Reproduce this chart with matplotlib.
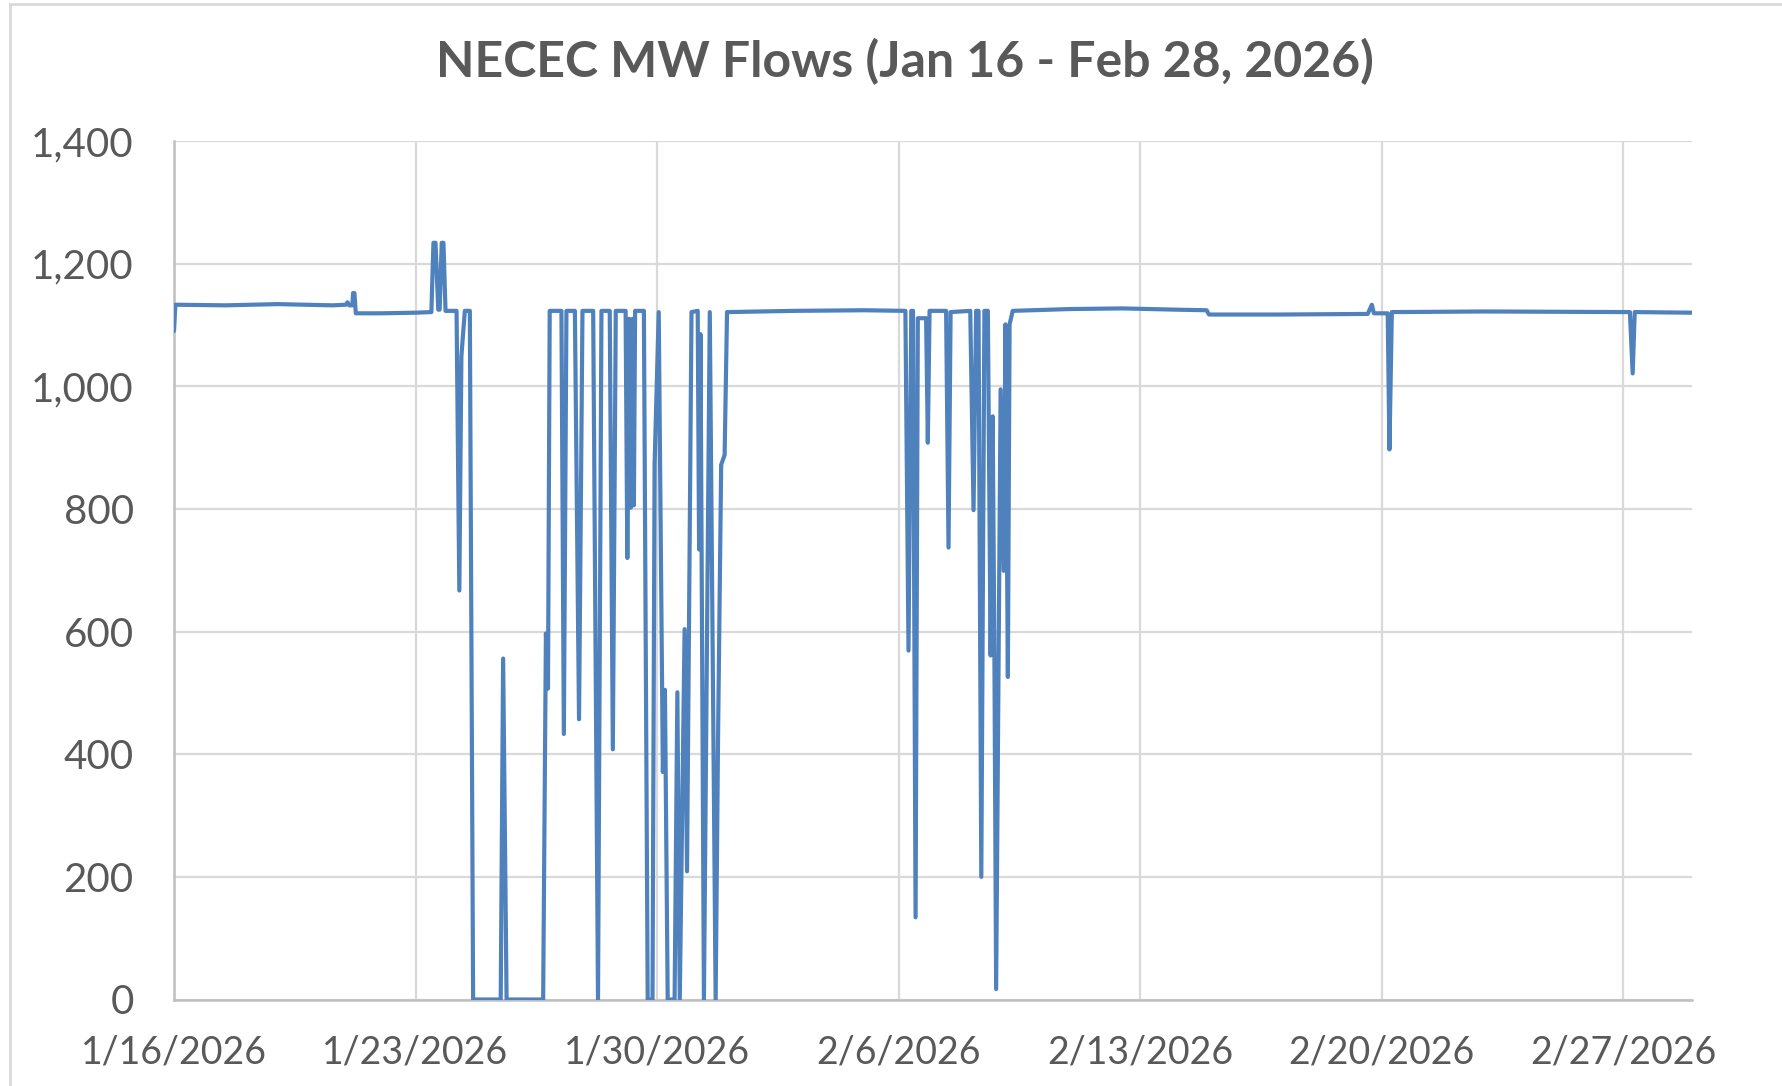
import matplotlib
matplotlib.use("Agg")
import matplotlib.pyplot as plt
import matplotlib.patches as patches
import matplotlib.dates as mdates
from matplotlib.ticker import FuncFormatter
import pandas as pd

# NECEC MW flows: days since 1/16/2026 00:00 and MW
day_offsets = [
    0.00, 0.04, 1.5, 3.0, 4.6, 4.98, 5.03, 5.08, 5.17, 5.19, 5.23, 5.27, 6.0, 7.0, 7.46,
    7.52, 7.58, 7.66, 7.70, 7.76, 7.81, 7.87, 8.19, 8.27, 8.33, 8.43, 8.575, 8.67,
    9.47, 9.54, 9.64, 10.70, 10.78, 10.84, 10.89, 11.23, 11.30, 11.375, 11.62, 11.74,
    11.84, 12.15, 12.29, 12.39, 12.63, 12.72, 12.805, 13.09, 13.14, 13.19, 13.24,
    13.29, 13.33, 13.365, 13.62, 13.73, 13.87, 13.93, 14.05, 14.17, 14.23, 14.31,
    14.51, 14.59, 14.66, 14.80, 14.87, 15.00, 15.18, 15.22, 15.26, 15.36, 15.53,
    15.70, 15.77, 15.86, 15.96, 16.03, 18.0, 20.0, 21.20,
    21.29, 21.37, 21.42, 21.495, 21.56, 21.80, 21.85, 21.90, 22.38, 22.45, 22.51,
    23.08, 23.175, 23.25, 23.32, 23.40, 23.49, 23.59, 23.67, 23.73, 23.78, 23.83,
    23.96, 24.05, 24.10, 24.17, 24.22, 24.31, 26.0, 27.5, 29.0, 29.93, 30.0, 32.0,
    34.6, 34.72, 34.78, 35.18, 35.23, 35.30, 38.0, 42.2, 42.28, 42.34, 44.0,
]
mw_flow = [
    1090, 1133, 1132, 1134, 1132, 1133, 1137, 1132, 1132, 1152, 1152, 1119, 1119, 1120, 1121,
    1234, 1234, 1125, 1125, 1234, 1234, 1123, 1123, 667, 1049, 1123, 1123, 0,
    0, 556, 0, 0, 597, 507, 1123, 1123, 433, 1123, 1123, 457,
    1123, 1123, 0, 1123, 1123, 408, 1123, 1123, 720, 1110, 802,
    1110, 806, 1123, 1123, 0, 0, 872, 1121, 371, 505, 0,
    0, 501, 0, 604, 209, 1121, 1123, 734, 1085, 0, 1121,
    0, 430, 872, 888, 1121, 1123, 1124, 1123,
    569, 1123, 1123, 134, 1111, 1111, 908, 1123, 1123, 737, 1121,
    1123, 798, 1123, 1123, 200, 1123, 1123, 561, 951, 561, 17,
    995, 699, 1101, 526, 1101, 1123, 1126, 1127, 1125, 1124, 1117, 1117,
    1118, 1133, 1119, 1119, 897, 1121, 1122, 1121, 1021, 1121, 1120,
]

start_date = "2026-01-16"
end_date = "2026-03-01"
tick_dates = ["2026-01-16", "2026-01-23", "2026-01-30", "2026-02-06",
              "2026-02-13", "2026-02-20", "2026-02-27"]
tick_labels = ["1/16/2026", "1/23/2026", "1/30/2026", "2/6/2026",
               "2/13/2026", "2/20/2026", "2/27/2026"]
y_ticks = [0, 200, 400, 600, 800, 1000, 1200, 1400]

title = "NECEC MW Flows (Jan 16 - Feb 28, 2026)"

plt.rcParams["font.family"] = ["Lato", "DejaVu Sans"]
text_gray = "#595959"
grid_gray = "#D9D9D9"

times = pd.Timestamp(start_date) + pd.to_timedelta(day_offsets, unit="D")

fig = plt.figure(figsize=(17.83, 10.86), dpi=100)
ax = fig.add_axes([174 / 1783, 1 - 999.5 / 1086, (1692 - 174) / 1783, (999.5 - 141) / 1086])

ax.plot(times, mw_flow, color="#4F81BD", lw=3.0, solid_joinstyle="round",
        solid_capstyle="round", zorder=3)

ax.set_xlim(pd.Timestamp(start_date), pd.Timestamp(end_date))
ax.set_ylim(0, 1400)
ax.set_xticks([mdates.date2num(pd.Timestamp(d)) for d in tick_dates])
ax.set_xticklabels(tick_labels)
ax.set_yticks(y_ticks)
ax.yaxis.set_major_formatter(FuncFormatter(lambda v, p: f"{int(v):,}"))

ax.grid(True, color=grid_gray, lw=1.6, zorder=0)
ax.set_axisbelow(True)
for side in ["top", "right"]:
    ax.spines[side].set_visible(False)
for side in ["left", "bottom"]:
    ax.spines[side].set_color("#BFBFBF")
    ax.spines[side].set_linewidth(1.8)

ax.tick_params(axis="both", length=0, colors=text_gray)
ax.tick_params(axis="y", pad=29, labelsize=29)
ax.tick_params(axis="x", pad=25, labelsize=27)

fig.text(905 / 1783, 1 - 62 / 1086, title, ha="center", va="center",
         fontsize=36, fontweight="bold", color=text_gray)

# outer chart border (cropped on the right and bottom)
border = patches.Rectangle((10 / 1783, -0.02), 1.2, 1 - 4 / 1086 + 0.02,
                           transform=fig.transFigure, fill=False,
                           ec=grid_gray, lw=2)
fig.add_artist(border)

fig.savefig("out.png", dpi=100)
